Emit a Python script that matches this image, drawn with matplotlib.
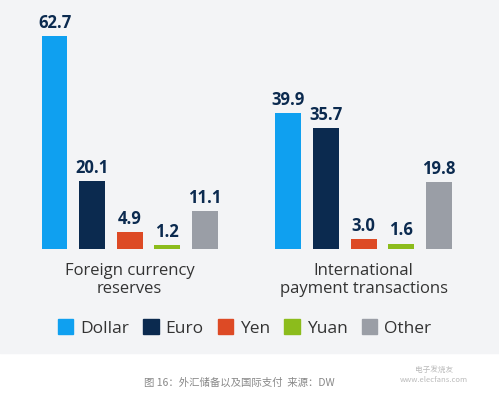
import matplotlib.pyplot as plt
from matplotlib.patches import Rectangle

plt.rcParams["font.family"] = ["Open Sans", "DejaVu Sans"]

groups = ["Foreign currency\nreserves", "International\npayment transactions"]
currencies = ["Dollar", "Euro", "Yen", "Yuan", "Other"]
colors = ["#0fa0f0", "#0b2a4f", "#dd4a25", "#8cbc1c", "#9a9ea6"]
values = [
    [62.7, 20.1, 4.9, 1.2, 11.1],
    [39.9, 35.7, 3.0, 1.6, 19.8],
]
caption = "图 16：外汇储备以及国际支付  来源：DW"

fig = plt.figure(figsize=(4.99, 4.0), dpi=100)
fig.patches.append(Rectangle((0, 47 / 400), 1, 353 / 400, transform=fig.transFigure,
                             color="#f3f4f6", zorder=-1))

ax = fig.add_axes([0, 151 / 400, 1, 213 / 400])
ax.set_xlim(-1.45, 11.82)
ax.set_ylim(0, 62.7)
ax.axis("off")

gap = 6.22
for g, vals in enumerate(values):
    for i, v in enumerate(vals):
        x = g * gap + i
        ax.bar(x, v, width=0.69, color=colors[i])
        ax.text(x, v + 1.2, f"{v:.1f}", ha="center", va="bottom",
                fontsize=12, fontweight="bold", color="#0b2a4f")
    ax.text(g * gap + 2, -4.0, groups[g], ha="center", va="top",
            fontsize=12, color="#333333", linespacing=1.2)

handles = [Rectangle((0, 0), 1, 1, color=c) for c in colors]
fig.legend(handles, currencies, loc="center", bbox_to_anchor=(0.49, 1 - 328 / 400),
           ncol=5, frameon=False, fontsize=12.5, handlelength=0.9, handleheight=0.9,
           handletextpad=0.4, columnspacing=0.8, labelcolor="#333333")

fig.text(0.48, 1 - 383 / 400, caption, ha="center", va="center", fontsize=7.5,
         style="italic", color="#888888", family=["Noto Sans CJK SC", "DejaVu Sans"])
fig.text(0.87, 1 - 375 / 400, "电子发烧友\nwww.elecfans.com", ha="center", va="center",
         fontsize=5.5, color="#bbbbbb", family=["Noto Sans CJK SC", "DejaVu Sans"])

fig.savefig("out.png", dpi=100)
